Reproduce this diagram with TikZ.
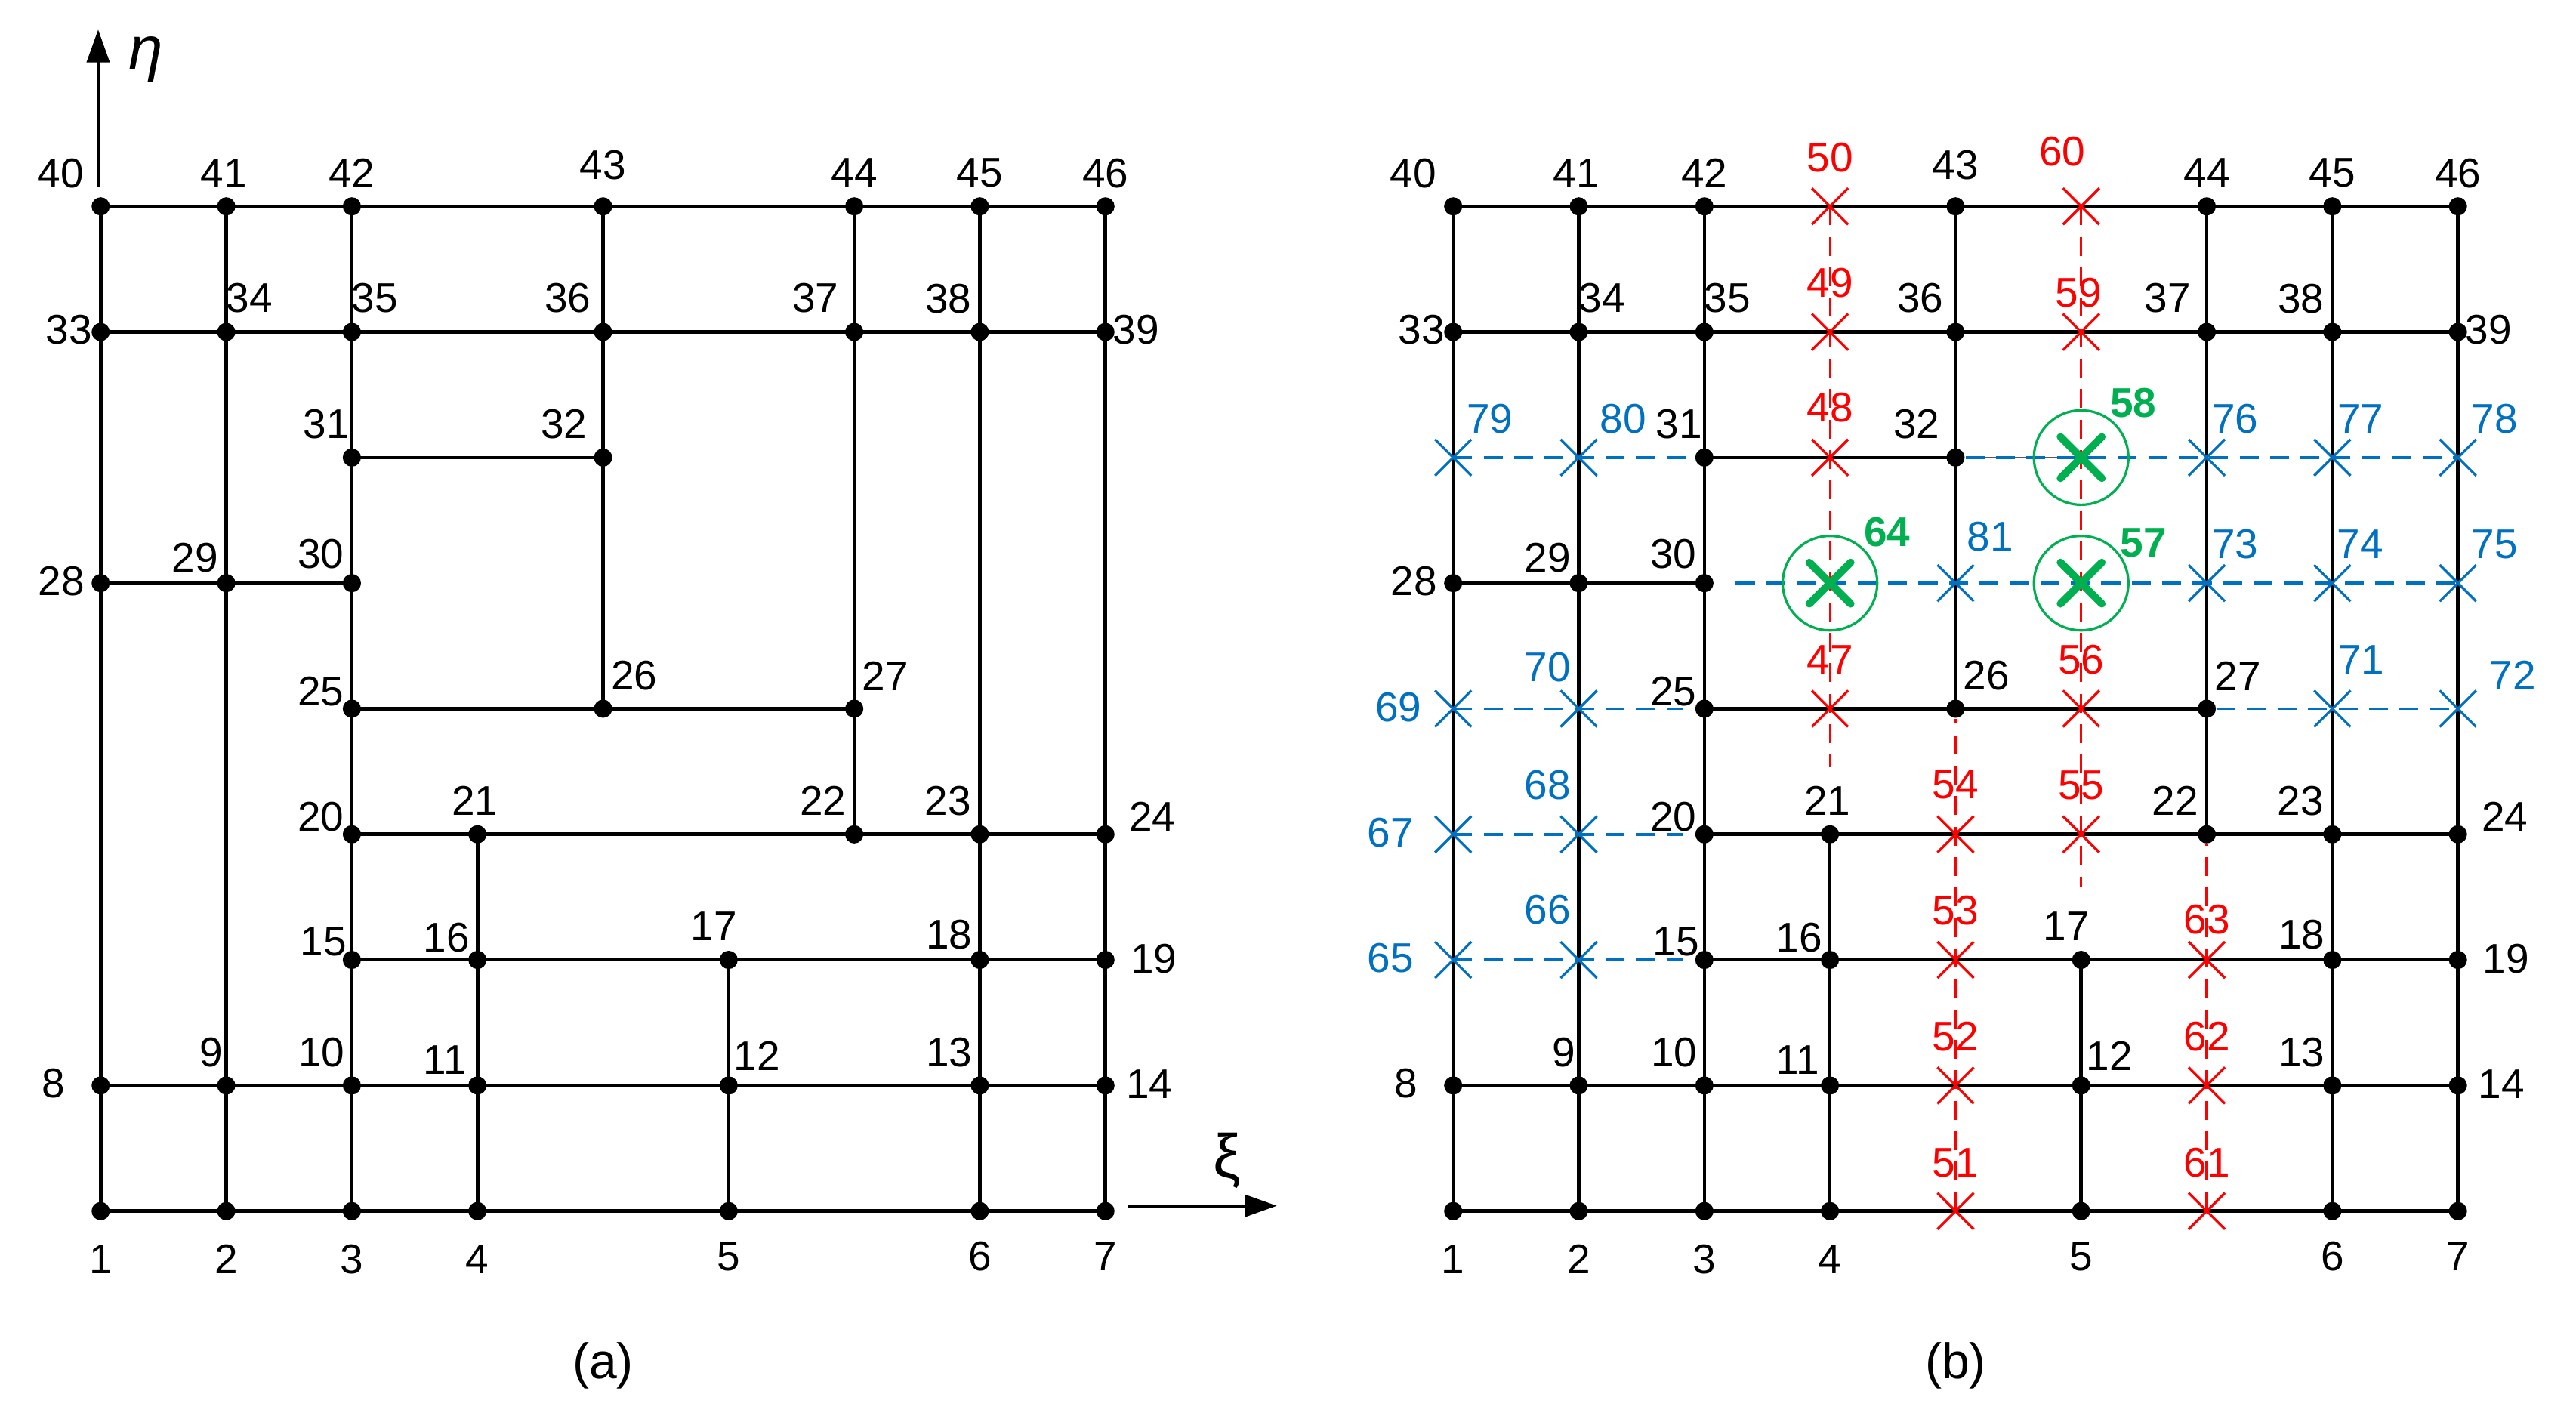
\documentclass[tikz,border=0pt]{standalone}
\usepackage{fontspec}
\setmainfont{Liberation Sans}
\usetikzlibrary{arrows.meta,shapes.misc,calc}
\definecolor{myred}{RGB}{255,0,0}
\definecolor{myblue}{RGB}{0,112,192}
\definecolor{mygreen}{RGB}{0,176,80}
\pgfdeclarelayer{lines}
\pgfsetlayers{lines,main}
\def\nodelist{1/0/0,2/1/0,3/2/0,4/3/0,5/5/0,6/7/0,7/8/0,8/0/1,9/1/1,10/2/1,11/3/1,12/5/1,13/7/1,14/8/1,15/2/2,16/3/2,17/5/2,18/7/2,19/8/2,20/2/3,21/3/3,22/6/3,23/7/3,24/8/3,25/2/4,26/4/4,27/6/4,28/0/5,29/1/5,30/2/5,31/2/6,32/4/6,33/0/7,34/1/7,35/2/7,36/4/7,37/6/7,38/7/7,39/8/7,40/0/8,41/1/8,42/2/8,43/4/8,44/6/8,45/7/8,46/8/8}
\def\lablist{1/0/-0.383,2/0/-0.383,3/0/-0.383,4/0/-0.383,5/0/-0.36,6/0/-0.36,7/0/-0.36,8/-0.376/0.017,9/-0.119/0.262,10/-0.24/0.262,11/-0.259/0.203,12/0.226/0.237,13/-0.244/0.262,14/0.348/0.011,15/-0.225/0.144,16/-0.247/0.178,17/-0.116/0.268,18/-0.244/0.2,19/0.384/0.011,20/-0.248/0.139,21/-0.02/0.268,22/-0.25/0.268,23/-0.252/0.265,24/0.374/0.143,25/-0.248/0.135,26/0.247/0.262,27/0.248/0.262,28/-0.312/0.015,29/-0.249/0.204,30/-0.248/0.234,31/-0.203/0.268,32/-0.31/0.268,33/-0.253/0.02,34/0.185/0.27,35/0.184/0.27,36/-0.281/0.268,37/-0.31/0.268,38/-0.25/0.264,39/0.245/0.017,40/-0.319/0.265,41/-0.02/0.265,42/0/0.265,43/0/0.33,44/0/0.266,45/0/0.265,46/0/0.265}
\def\linelist{1/7,8/14,15/19,20/24,25/27,28/30,31/32,33/39,40/46,1/40,2/41,3/42,4/21,26/43,5/17,22/44,6/45,7/46}
\begin{document}
\begin{tikzpicture}[
  x=1cm,y=1cm,
  dot/.style={circle,fill=black,inner sep=0pt,minimum size=0.145cm},
  redx/.style={cross out,draw=myred,line width=0.55pt,inner sep=0pt,minimum size=0.27cm},
  bluex/.style={cross out,draw=myblue,line width=0.55pt,inner sep=0pt,minimum size=0.27cm},
  greenx/.style={cross out,draw=mygreen,line width=1.7pt,line cap=round,inner sep=0pt,minimum size=0.27cm},
  ring/.style={circle,draw=mygreen,line width=0.55pt,inner sep=0pt,minimum size=0.752cm},
  lab/.style={inner sep=0pt,font=\fontsize{9.4}{11}\selectfont},
  rlab/.style={lab,text=myred},
  blab/.style={lab,text=myblue},
  glab/.style={inner sep=0pt,text=mygreen,font=\fontsize{9.4}{11}\selectfont\bfseries},
  gridline/.style={line width=0.8pt},
  rdash/.style={draw=myred,line width=0.55pt,dash pattern=on 4.3pt off 2.6pt},
  bdash/.style={draw=myblue,line width=0.6pt,dash pattern=on 4.3pt off 2.6pt},
  thinline/.style={draw=black!65,line width=0.3pt},
  axisline/.style={line width=0.65pt}
]
\useasboundingbox (-0.8016,-1.6795) rectangle (19.7094,9.6434);

% black nodes of both panels
\foreach \p/\ox in {a/0,b/10.769}{
  \foreach \n/\i/\j in \nodelist
    \node[dot] (\p\n) at (\ox+\i,\j) {};
}
% black labels
\foreach \p in {a,b}{
  \foreach \n/\dx/\dy in \lablist
    \node[lab] (\p l\n) at ($(\p\n)+(\dx,\dy)$) {\n};
}

% red crosses (b)
\foreach \n/\i/\j/\dx/\dy in {47/3/4/0/0.39,48/3/6/0/0.396,49/3/7/0/0.39,50/3/8/0/0.39,51/4/0/0/0.385,52/4/1/0/0.391,53/4/2/0/0.391,54/4/3/0/0.394,55/5/3/0/0.39,56/5/4/0/0.39,59/5/7/-0.02/0.31,60/5/8/-0.15/0.437,61/6/0/0/0.385,62/6/1/0/0.391,63/6/2/0/0.324}{
  \node[redx] (b\n) at (10.769+\i,\j) {};
  \node[rlab] (bl\n) at ($(b\n)+(\dx,\dy)$) {\n};
}
% blue crosses (b)
\foreach \n/\i/\j/\dx/\dy in {65/0/2/-0.5/0.015,66/1/2/-0.249/0.397,67/0/3/-0.5/0.015,68/1/3/-0.249/0.39,69/0/4/-0.437/0.013,70/1/4/-0.247/0.328,71/7/4/0.231/0.39,72/8/4/0.436/0.266,73/6/5/0.227/0.308,74/7/5/0.223/0.308,75/8/5/0.293/0.308,76/6/6/0.227/0.308,77/7/6/0.225/0.308,78/8/6/0.293/0.308,79/0/6/0.292/0.308,80/1/6/0.352/0.308,81/4/5/0.277/0.372}{
  \node[bluex] (b\n) at (10.769+\i,\j) {};
  \node[blab] (bl\n) at ($(b\n)+(\dx,\dy)$) {\n};
}
% green points (b)
\foreach \n/\i/\j/\dx/\dy in {57/5/5/0.495/0.322,58/5/6/0.416/0.434,64/3/5/0.455/0.404}{
  \node[ring] (g\n) at (10.769+\i,\j) {};
  \node[greenx] (b\n) at (10.769+\i,\j) {};
  \node[glab] (bl\n) at ($(b\n)+(\dx,\dy)$) {\n};
}

\begin{pgfonlayer}{lines}
  \foreach \p in {a,b}{
    \foreach \s/\e in \linelist
      \draw[gridline] (\p\s.center) -- (\p\e.center);
  }
  \coordinate (bs5) at (10.769+2.25,5);
  \coordinate (be4) at (10.769+1.83,4);
  \coordinate (be3) at (10.769+1.83,3);
  \coordinate (be2) at (10.769+1.83,2);
  \coordinate (re3) at (10.769+3,3.54);
  \coordinate (re5) at (10.769+5,2.58);
  \draw[thinline] (b32) -- (b58.center);
  \draw[bdash] (b79.center) -- (b31.center);
  \draw[bdash] (b32) -- (b78.center);
  \draw[bdash] (bs5) -- (b75.center);
  \draw[bdash] (b69.center) -- (be4);
  \draw[bdash] (b27) -- (b72.center);
  \draw[bdash] (b67.center) -- (be3);
  \draw[bdash] (b65.center) -- (be2);
  \draw[rdash] (b50.center) -- (re3);
  \draw[rdash] (b51.center) -- (b26);
  \draw[rdash] (b60.center) -- (re5);
  \draw[rdash] (b61.center) -- (b22);
\end{pgfonlayer}

% axes of panel (a)
\coordinate (etaS) at (-0.02,8.16);
\coordinate (etaE) at (-0.02,9.407);
\draw[axisline,-{Triangle[length=0.26cm,width=0.18cm]}] (etaS) -- (etaE);
\node[anchor=base,inner sep=0pt,font=\fontsize{14}{16}\selectfont\itshape] (eta) at (0.36,9.087) {η};
\coordinate (xiS) at (8.178,0.042);
\coordinate (xiE) at (9.365,0.042);
\draw[axisline,-{Triangle[length=0.255cm,width=0.175cm]}] (xiS) -- (xiE);
\node[anchor=base,inner sep=0pt,font=\fontsize{14}{16}\selectfont] (xi) at (8.966,0.265) {ξ};

% captions
\node[anchor=base,inner sep=0pt,font=\fontsize{11.3}{13}\selectfont] (capa) at (4,-1.331) {(a)};
\node[anchor=base,inner sep=0pt,font=\fontsize{11.3}{13}\selectfont] (capb) at (14.769,-1.331) {(b)};
\end{tikzpicture}
\end{document}
